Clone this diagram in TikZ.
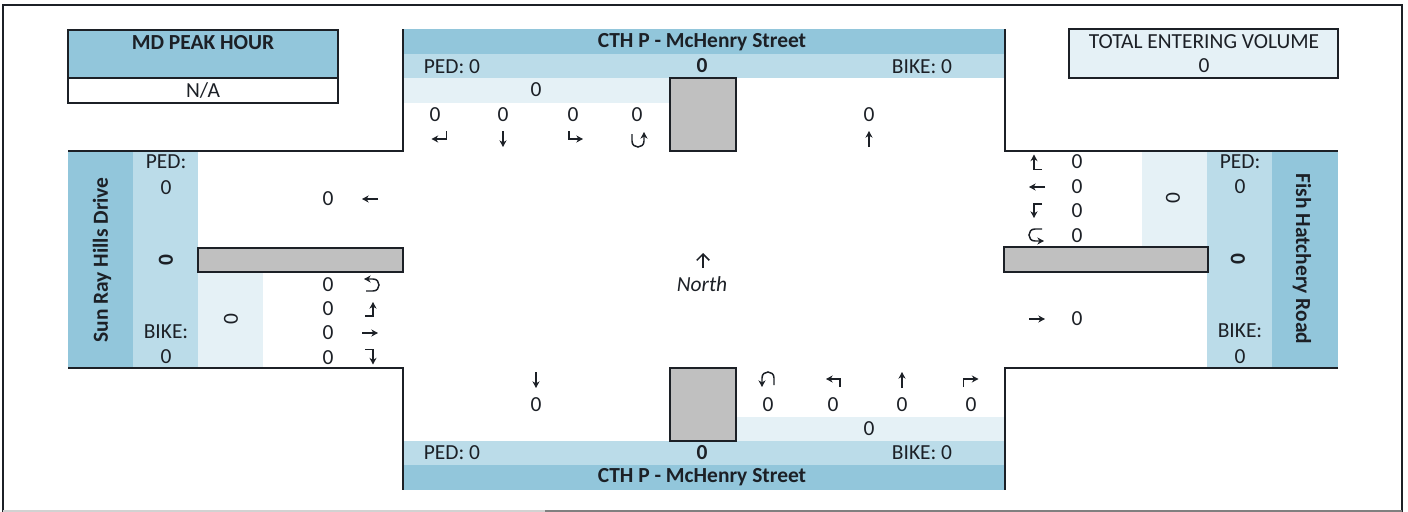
\documentclass[tikz,border=0pt]{standalone}
\usepackage{fontspec}
\setmainfont{Carlito}
\usetikzlibrary{arrows.meta}

\definecolor{roadblue}{RGB}{146,198,219}
\definecolor{pedblue}{RGB}{187,220,233}
\definecolor{paleblue}{RGB}{229,241,246}
\definecolor{islegray}{RGB}{192,192,192}
\definecolor{inkdark}{RGB}{28,32,38}

\tikzset{
    lbl/.style={font=\fontsize{6.1}{6.5}\selectfont, text=inkdark, inner sep=0pt},
    lblb/.style={lbl, font=\fontsize{6.1}{6.5}\selectfont\bfseries},
    kerb/.style={draw=inkdark, line width=0.5pt},
    arr/.style={draw=inkdark, line width=0.42pt, line join=miter, -{Stealth[length=1.9pt,width=2pt]}},
    pics/arrstr/.style={code={\draw[arr] (0,-8) -- (0,8);}},
    pics/arrhook/.style={code={\draw[arr] (7.5,-5) -- (7.5,3) -- (-7.5,3);}},
    pics/arrleft/.style={code={\draw[arr] (-7,-5) -- (-7,3) -- (7,3);}},
    pics/arrback/.style={code={\draw[arr] (-6,-5) -- (-6,2) .. controls (-6,10) and (6,10) .. (6,2) -- (6,-7);}},
}

\begin{document}
\begin{tikzpicture}[x=0.01cm, y=-0.01cm]

        \useasboundingbox (0,0) rectangle (1408,512);

        \draw[kerb, line width=0.7pt] (3,512) -- (3,5) -- (1402,5) -- (1402,512);
        \draw[gray, line width=0.5pt] (545,511) -- (1402,511);
        \draw[gray!35, line width=0.4pt] (3,511) -- (545,511);

        \fill[roadblue] (68,30) rectangle (338,78);
        \draw[kerb] (68,30) rectangle (338,78);
        \draw[kerb] (68,78) rectangle (338,103);
        \node[lblb] at (203,43) (mdhour) {MD PEAK HOUR};
        \node[lbl] at (203,91) (mdval) {N/A};

        \fill[paleblue] (1069,29) rectangle (1338,78);
        \draw[kerb] (1069,29) rectangle (1338,78);
        \node[lbl] at (1204,42) (total) {TOTAL ENTERING VOLUME};
        \node[lbl] at (1204,66) (totalval) {0};

        \fill[roadblue] (403,29) rectangle (1005,54);
        \fill[pedblue] (403,54) rectangle (1005,78);
        \fill[paleblue] (403,78) rectangle (670,103);
        \fill[roadblue] (403,465) rectangle (1005,490);
        \fill[pedblue] (403,441) rectangle (1005,465);
        \fill[paleblue] (736,417) rectangle (1005,441);
        \fill[roadblue] (68,151) rectangle (133,368);
        \fill[pedblue] (133,151) rectangle (198,368);
        \fill[paleblue] (198,272) rectangle (263,368);
        \fill[roadblue] (1272,151) rectangle (1338,368);
        \fill[pedblue] (1207,151) rectangle (1272,368);
        \fill[paleblue] (1142,151) rectangle (1207,247);

        \draw[kerb] (403,29) -- (403,151) -- (68,151);
        \draw[kerb] (68,368) -- (403,368) -- (403,490);
        \draw[kerb] (1005,29) -- (1005,151) -- (1338,151);
        \draw[kerb] (1338,368) -- (1005,368) -- (1005,490);

        \draw[kerb, fill=islegray] (670,78) rectangle (736,151);
        \draw[kerb, fill=islegray] (670,368) rectangle (736,441);
        \draw[kerb, fill=islegray] (198,248) rectangle (403,272);
        \draw[kerb, fill=islegray] (1004,247) rectangle (1208,272);

        \node[lblb] at (702,42) (nameN) {CTH P - McHenry Street};
        \node[lbl] at (452,67) (pedN) {PED: 0};
        \node[lblb] at (702,66) (midN) {0};
        \node[lbl] at (922,67) (bikeN) {BIKE: 0};
        \node[lbl] at (536,90) (sumN) {0};
        \node[lbl] at (435,115) (n1) {0};
        \node[lbl] at (503,115) (n2) {0};
        \node[lbl] at (573,115) (n3) {0};
        \node[lbl] at (637,115) (n4) {0};
        \node[lbl] at (869,115) (n5) {0};

        \pic at (439,136) {arrhook};
        \pic at (503,139) {arrstr};
        \pic at (576,136) {arrleft};
        \pic at (638,139) {arrback};
        \pic[rotate=180] at (869,139) {arrstr};

        \node[lblb] at (702,477) (nameS) {CTH P - McHenry Street};
        \node[lbl] at (452,453) (pedS) {PED: 0};
        \node[lblb] at (702,453) (midS) {0};
        \node[lbl] at (922,453) (bikeS) {BIKE: 0};
        \node[lbl] at (869,429) (sumS) {0};
        \node[lbl] at (536,405) (s1) {0};
        \node[lbl] at (768,405) (s2) {0};
        \node[lbl] at (833,405) (s3) {0};
        \node[lbl] at (902,405) (s4) {0};
        \node[lbl] at (971,405) (s5) {0};

        \pic at (536,380) {arrstr};
        \pic[rotate=180] at (768,380) {arrback};
        \pic[rotate=180] at (833,382) {arrleft};
        \pic[rotate=180] at (902,380) {arrstr};
        \pic[rotate=180] at (971,382) {arrhook};

        \node[lblb, rotate=90] at (102,260) (nameW) {Sun Ray Hills Drive};
        \node[lbl] at (166,162) (pedW) {PED:};
        \node[lbl] at (166,188) (pedvalW) {0};
        \node[lblb, rotate=90] at (166,260) (midW) {0};
        \node[lbl] at (166,332) (bikeW) {BIKE:};
        \node[lbl] at (166,357) (bikevalW) {0};
        \node[lbl, rotate=90] at (231,319) (sumW) {0};
        \node[lbl] at (328,199) (w1) {0};
        \node[lbl] at (328,285) (w2) {0};
        \node[lbl] at (328,309) (w3) {0};
        \node[lbl] at (328,333) (w4) {0};
        \node[lbl] at (328,358) (w5) {0};

        \pic[rotate=-90] at (370,199) {arrstr};
        \pic[rotate=90] at (371,285) {arrback};
        \pic[rotate=90] at (370,309) {arrleft};
        \pic[rotate=90] at (370,333) {arrstr};
        \pic[rotate=90] at (370,357) {arrhook};

        \node[lblb, rotate=-90] at (1302,259) (nameE) {Fish Hatchery Road};
        \node[lbl] at (1240,162) (pedE) {PED:};
        \node[lbl] at (1240,187) (pedvalE) {0};
        \node[lblb, rotate=90] at (1238,259) (midE) {0};
        \node[lbl] at (1240,331) (bikeE) {BIKE:};
        \node[lbl] at (1240,357) (bikevalE) {0};
        \node[lbl, rotate=90] at (1173,198) (sumE) {0};
        \node[lbl] at (1077,162) (e1) {0};
        \node[lbl] at (1077,187) (e2) {0};
        \node[lbl] at (1077,211) (e3) {0};
        \node[lbl] at (1077,236) (e4) {0};
        \node[lbl] at (1077,319) (e5) {0};

        \pic[rotate=-90] at (1037,162) {arrhook};
        \pic[rotate=-90] at (1037,187) {arrstr};
        \pic[rotate=-90] at (1037,211) {arrleft};
        \pic[rotate=-90] at (1037,235) {arrback};
        \pic[rotate=90] at (1037,319) {arrstr};

        \node[lbl, font=\fontsize{6.1}{6.5}\selectfont\itshape] at (702,284) (north) {North};
        \coordinate (northtip) at (703,253);
        \draw[draw=inkdark, line width=0.42pt, -{Straight Barb[length=1.8pt,width=3.6pt]}] (703,268) -- (northtip);

\end{tikzpicture}
\end{document}
